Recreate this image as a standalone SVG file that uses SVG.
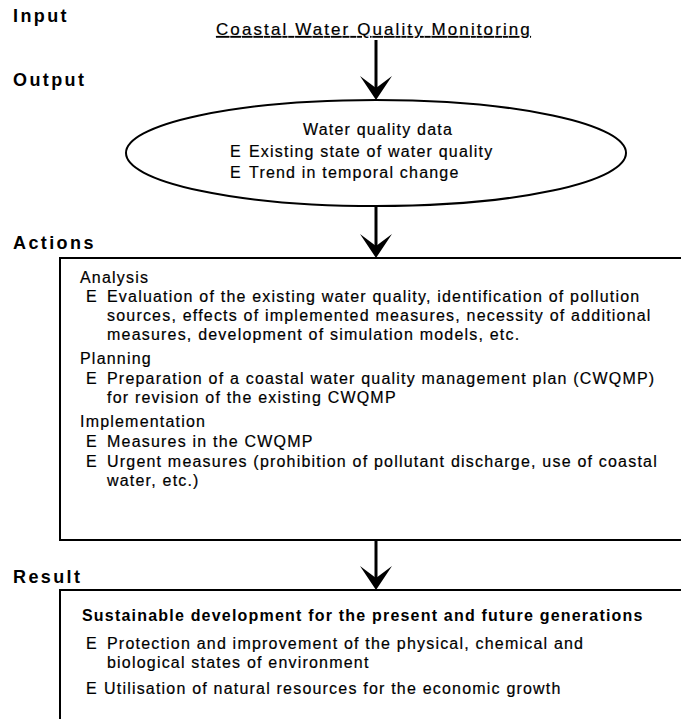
<svg xmlns="http://www.w3.org/2000/svg" width="681" height="719" viewBox="0 0 681 719">
  <style>
    .stage { font-family: "Liberation Sans", Arial, sans-serif; font-size: 18px; font-weight: bold; letter-spacing: 2.4px; fill: #000; }
    .t { font-family: "Liberation Sans", Arial, sans-serif; font-size: 16px; letter-spacing: 1.2px; fill: #000; stroke: #000; stroke-width: 0.2; }
    .b { font-weight: bold; letter-spacing: 1.2px; stroke-width: 0; }
    .edge { stroke: #000; stroke-width: 3; fill: none; }
    .frame { stroke: #000; stroke-width: 2; fill: none; }
    .head { fill: #000; }
  </style>
  <defs>
    <path id="arrowhead" class="head" d="M0,0 L-16,-24 L0,-12 L16,-24 Z"/>
  </defs>
  <rect width="681" height="719" fill="#fff"/>

  <!-- stage labels -->
  <g id="stage-labels">
    <text class="stage" x="13" y="22">Input</text>
    <text class="stage" x="13" y="86">Output</text>
    <text class="stage" x="13" y="249">Actions</text>
    <text class="stage" x="13" y="583">Result</text>
  </g>

  <!-- input -->
  <g id="input">
    <text class="t" x="216" y="35" text-decoration="underline" style="font-size:17px" textLength="315" lengthAdjust="spacing">Coastal Water Quality Monitoring</text>
  </g>

  <!-- output ellipse -->
  <g id="output">
    <ellipse class="frame" cx="376" cy="153" rx="250" ry="53"/>
    <text class="t" x="378" y="135" text-anchor="middle">Water quality data</text>
    <text class="t" x="230" y="157">E</text>
    <text class="t" x="249" y="157">Existing state of water quality</text>
    <text class="t" x="230" y="178">E</text>
    <text class="t" x="249" y="178">Trend in temporal change</text>
  </g>

  <!-- actions -->
  <g id="actions">
    <path class="frame" d="M690,258 H60 V540 H690"/>
    <text class="t" x="80" y="283">Analysis</text>
    <text class="t" x="86" y="302">E</text>
    <text class="t" x="107" y="302">Evaluation of the existing water quality, identification of pollution</text>
    <text class="t" x="107" y="321">sources, effects of implemented measures, necessity of additional</text>
    <text class="t" x="107" y="340">measures, development of simulation models, etc.</text>
    <text class="t" x="80" y="364">Planning</text>
    <text class="t" x="86" y="384">E</text>
    <text class="t" x="107" y="384">Preparation of a coastal water quality management plan (CWQMP)</text>
    <text class="t" x="107" y="403">for revision of the existing CWQMP</text>
    <text class="t" x="80" y="427">Implementation</text>
    <text class="t" x="86" y="447">E</text>
    <text class="t" x="107" y="447">Measures in the CWQMP</text>
    <text class="t" x="86" y="467">E</text>
    <text class="t" x="107" y="467">Urgent measures (prohibition of pollutant discharge, use of coastal</text>
    <text class="t" x="107" y="486">water, etc.)</text>
  </g>

  <!-- result -->
  <g id="result">
    <path class="frame" d="M690,590 H60 V730"/>
    <text class="t b" x="82" y="621">Sustainable development for the present and future generations</text>
    <text class="t" x="86" y="649">E</text>
    <text class="t" x="107" y="649">Protection and improvement of the physical, chemical and</text>
    <text class="t" x="107" y="668">biological states of environment</text>
    <text class="t" x="86" y="694">E</text>
    <text class="t" x="104" y="694">Utilisation of natural resources for the economic growth</text>
  </g>

  <!-- connectors -->
  <g id="connectors">
    <line class="edge" x1="376" y1="40" x2="376" y2="90"/>
    <use href="#arrowhead" x="376" y="100"/>
    <line class="edge" x1="376" y1="206" x2="376" y2="248"/>
    <use href="#arrowhead" x="376" y="258"/>
    <line class="edge" x1="376" y1="540" x2="376" y2="580"/>
    <use href="#arrowhead" x="376" y="590"/>
  </g>
</svg>
